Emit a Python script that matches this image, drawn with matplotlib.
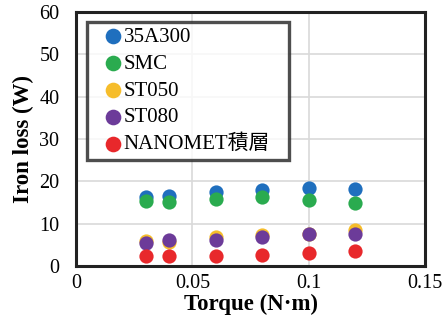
import matplotlib.pyplot as plt

plt.rcParams['font.family'] = ['Liberation Serif', 'Noto Sans CJK JP']

torque = [0.03, 0.04, 0.06, 0.08, 0.10, 0.12]
loss_35a300 = [16.4, 16.6, 17.6, 18.0, 18.4, 18.1]
loss_smc = [15.4, 15.2, 15.8, 16.2, 15.5, 15.0]
loss_st050 = [6.0, 5.7, 6.8, 7.4, 7.5, 8.5]
loss_st080 = [5.4, 6.1, 6.1, 6.8, 7.5, 7.6]
loss_nanomet = [2.4, 2.4, 2.4, 2.6, 3.0, 3.6]

labels = ['35A300', 'SMC', 'ST050', 'ST080', 'NANOMET積層']
colors = ['#1f6fbe', '#2aab4f', '#f6bd2b', '#6c3b99', '#e8282b']
series = [loss_35a300, loss_smc, loss_st050, loss_st080, loss_nanomet]

fig = plt.figure(figsize=(4.43, 3.27), dpi=100)
ax = fig.add_axes([0.1716, 0.1865, 0.7878, 0.7765])

for vals, c, lab in zip(series, colors, labels):
    ax.scatter(torque, vals, s=105, color=c, label=lab, zorder=3, linewidths=0)

ax.set_xlim(0, 0.15)
ax.set_ylim(0, 60)
ax.set_xticks([0, 0.05, 0.1, 0.15])
ax.set_xticklabels(['0', '0.05', '0.1', '0.15'])
ax.set_yticks(range(0, 61, 10))
ax.grid(True, color='#d9d9d9', linewidth=1.2)
ax.set_axisbelow(True)
for s in ax.spines.values():
    s.set_linewidth(2.2)
    s.set_color('#222222')
ax.tick_params(length=0, labelsize=14.5)
ax.tick_params(axis='x', pad=6)
ax.tick_params(axis='y', pad=12)
ax.set_xlabel('Torque (N·m)', fontsize=16.5, fontweight='bold', labelpad=0)
ax.set_ylabel('Iron loss (W)', fontsize=16.5, fontweight='bold', labelpad=4)

leg = ax.legend(loc='upper left', bbox_to_anchor=(0.0315, 0.417, 0.579, 0.544),
                mode='expand', fontsize=15, frameon=True, fancybox=False,
                handletextpad=-0.5, borderpad=0.25, labelspacing=0.35,
                handlelength=2.0, borderaxespad=0, markerscale=1.1)
leg.get_frame().set_edgecolor('#222222')
leg.get_frame().set_linewidth(2.4)

fig.savefig('out.png', dpi=100)
